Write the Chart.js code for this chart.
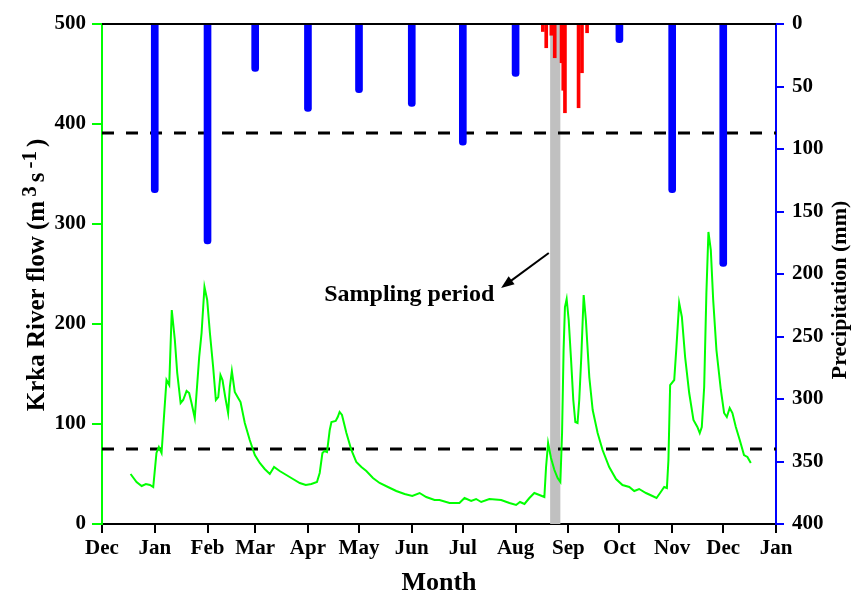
<!DOCTYPE html>
<html>
<head>
<meta charset="utf-8">
<title>Krka River flow and precipitation</title>
<script src="https://cdn.jsdelivr.net/npm/chart.js@4.4.1/dist/chart.umd.min.js"></script>
<style>
  html, body { margin: 0; padding: 0; background: #fff; }
  #flowChart { display: block; background: #fff; }
</style>
</head>
<body>
<canvas id="flowChart" width="860" height="596"></canvas>
<script>
// x axis runs in days counted from 1 December
const monthLabels = ['Dec', 'Jan', 'Feb', 'Mar', 'Apr', 'May', 'Jun', 'Jul', 'Aug', 'Sep', 'Oct', 'Nov', 'Dec', 'Jan'];
const monthStartDays = [0, 31, 62, 90, 121, 151, 182, 212, 243, 274, 304, 335, 365, 396];

// daily river flow, m3/s
const flowDays = [
  16.8, 20.3, 23.3, 25.8, 28.2, 30.1, 32, 33.4, 35, 36.4, 37.9, 39.5, 41, 42.8, 44.2, 46.2, 47.7, 49.7,
  51.2, 52.6, 54.5, 57.1, 58.5, 60.2, 61.8, 63.4, 65.3, 66.9, 68.3, 69.6, 70.8, 72.4, 74.1, 75.1, 76.3,
  78, 80, 81.4, 83.9, 86.8, 89.8, 92.7, 95.6, 98.6, 101.1, 104.4, 108.3, 112.2, 116.2, 119.7, 123,
  126.3, 127.9, 129.5, 130.8, 132.2, 133.8, 134.8, 137.3, 138.5, 139.6, 141, 143.6, 146.5, 149.4,
  152.4, 155.3, 159.2, 163.1, 168, 172.9, 177.8, 182.3, 186.6, 190.5, 195.4, 198.3, 204.2, 210, 213,
  216.9, 219.8, 222.8, 227.6, 234.5, 239.4, 243.3, 245.6, 248.2, 251.1, 254, 257, 259.9, 260.9, 262.1,
  263.8, 265.8, 267.7, 269.3, 270.3, 271.2, 272, 273, 274.2, 275.6, 276.9, 278.1, 279.4, 280.4, 281.6,
  283, 284.3, 286.3, 288.3, 291.2, 294.1, 298, 302, 305.8, 309.8, 312.7, 315.6, 319.6, 323.4, 325.8,
  328.3, 330.3, 331.9, 332.8, 333.8, 336.2, 337.5, 339.1, 340.7, 342.6, 345, 347.5, 349.8, 351.2,
  352.4, 353.8, 355.1, 356.3, 357.7, 359.1, 361, 363.6, 365.5, 367.1, 368.8, 370.4, 372.4, 374.7,
  377.2, 379.2, 381.2
];
const flowValues = [
  50, 42, 38, 40, 39, 37, 71, 77, 71, 107, 144, 139, 214, 184, 151, 121, 124, 133,
  131, 121, 106, 167, 191, 237, 224, 191, 157, 124, 127, 149, 144, 127, 111, 137, 153,
  132, 126, 122, 101, 84, 69, 61, 55, 50, 57, 53, 49, 45, 41, 39, 40,
  42, 51, 71, 73, 72, 94, 102, 103, 107, 112, 109, 91, 74, 62,
  57, 53, 46, 41, 37, 33, 30, 28, 31, 27, 24, 24, 21, 21, 26,
  23, 25, 22, 25, 24, 21, 19, 22, 20, 26, 31, 29, 27, 57, 81,
  66, 54, 46, 42, 91, 174, 217, 225, 204, 164, 124, 102, 101, 124, 167,
  229, 204, 147, 114, 91, 74, 57, 45, 39, 37, 33, 35, 31, 28, 26,
  32, 37, 36, 64, 139, 144, 177, 221, 207, 167, 131, 104, 97, 91,
  97, 137, 231, 292, 274, 224, 174, 134, 111, 107, 116, 111, 97, 84,
  69, 67, 61
];

// monthly precipitation totals, mm
const monthlyRainDays = [31, 62, 90, 121, 151, 182, 212, 243, 304, 335, 365];
const monthlyRain = [135, 176, 38, 70, 55, 66, 97, 42, 15, 135, 194];

// daily precipitation around the sampling campaign, mm
const dailyRainDays = [259, 261, 264, 266, 270, 271, 272, 280, 282, 285];
const dailyRain = [6, 19, 9, 27, 31, 53, 71, 67, 39, 7];

// reference flows, m3/s
const flowThresholds = [391, 75];

const samplingPeriod = [263.3, 269.3];
const samplingNote = { text: 'Sampling period', day: 180.5, flow: 229, from: [262.5, 271], to: [234.5, 236] };

const SERIF = '"Liberation Serif", "Times New Roman", serif';
Chart.defaults.font.family = SERIF;
Chart.defaults.font.weight = 'bold';
Chart.defaults.color = '#000';

const toPoints = (xs, ys) => xs.map((x, i) => ({ x: x, y: ys[i] }));
const firstDay = monthStartDays[0];
const lastDay = monthStartDays[monthStartDays.length - 1];

// grey band behind the data for the sampling days
const samplingBand = {
  id: 'samplingBand',
  beforeDatasetsDraw(chart) {
    const { ctx, chartArea, scales } = chart;
    const x0 = scales.x.getPixelForValue(samplingPeriod[0]);
    const x1 = scales.x.getPixelForValue(samplingPeriod[1]);
    ctx.save();
    ctx.fillStyle = '#c0c0c0';
    ctx.fillRect(x0, chartArea.top, x1 - x0, chartArea.bottom - chartArea.top);
    ctx.restore();
  }
};

// vertical text reading bottom to top, parts may be raised (superscripts)
function drawRotated(ctx, x, y, parts) {
  ctx.save();
  ctx.translate(x, y);
  ctx.rotate(-Math.PI / 2);
  ctx.textBaseline = 'alphabetic';
  ctx.textAlign = 'left';
  ctx.fillStyle = '#000';
  let total = 0;
  parts.forEach(p => {
    ctx.font = 'bold ' + p.size + 'px ' + SERIF;
    p.w = ctx.measureText(p.text).width;
    total += p.w + (p.gap || 0);
  });
  let pos = -total / 2;
  parts.forEach(p => {
    ctx.font = 'bold ' + p.size + 'px ' + SERIF;
    ctx.fillText(p.text, pos + (p.gap || 0) / 2, 8 - (p.rise || 0));
    pos += p.w + (p.gap || 0);
  });
  ctx.restore();
}

// top frame, y axis titles and the sampling note
const extras = {
  id: 'extras',
  afterDraw(chart) {
    const { ctx, chartArea, scales } = chart;
    ctx.save();
    ctx.strokeStyle = '#000';
    ctx.lineWidth = 2;
    ctx.beginPath();
    ctx.moveTo(chartArea.left, chartArea.top);
    ctx.lineTo(chartArea.right, chartArea.top);
    ctx.stroke();

    drawRotated(ctx, 36, 275, [
      { text: 'Krka River flow (m', size: 25 },
      { text: '3', size: 21, rise: 8, gap: 8 },
      { text: 's', size: 25 },
      { text: '-1', size: 21, rise: 8, gap: 8 },
      { text: ')', size: 25 }
    ]);
    drawRotated(ctx, 838, 290, [{ text: 'Precipitation (mm)', size: 22 }]);

    const tx = scales.x.getPixelForValue(samplingNote.day);
    const ty = scales.y.getPixelForValue(samplingNote.flow);
    ctx.font = 'bold 24px ' + SERIF;
    ctx.fillStyle = '#000';
    ctx.textAlign = 'center';
    ctx.textBaseline = 'middle';
    ctx.fillText(samplingNote.text, tx, ty);

    const ax0 = scales.x.getPixelForValue(samplingNote.from[0]);
    const ay0 = scales.y.getPixelForValue(samplingNote.from[1]);
    const ax1 = scales.x.getPixelForValue(samplingNote.to[0]);
    const ay1 = scales.y.getPixelForValue(samplingNote.to[1]);
    const ang = Math.atan2(ay1 - ay0, ax1 - ax0);
    const head = 13;
    ctx.beginPath();
    ctx.moveTo(ax0, ay0);
    ctx.lineTo(ax1 - Math.cos(ang) * head * 0.8, ay1 - Math.sin(ang) * head * 0.8);
    ctx.stroke();
    ctx.beginPath();
    ctx.moveTo(ax1, ay1);
    ctx.lineTo(ax1 - head * Math.cos(ang) + 5 * Math.sin(ang), ay1 - head * Math.sin(ang) - 5 * Math.cos(ang));
    ctx.lineTo(ax1 - head * Math.cos(ang) - 5 * Math.sin(ang), ay1 - head * Math.sin(ang) + 5 * Math.cos(ang));
    ctx.closePath();
    ctx.fill();
    ctx.restore();
  }
};

const thresholdSets = flowThresholds.map(t => ({
  type: 'line',
  data: [{ x: firstDay, y: t }, { x: lastDay, y: t }],
  yAxisID: 'y',
  borderColor: '#000',
  borderWidth: 3,
  borderDash: [12, 12],
  pointRadius: 0,
  order: 3
}));

new Chart(document.getElementById('flowChart'), {
  type: 'bar',
  data: {
    datasets: [
      {
        type: 'line',
        data: toPoints(flowDays, flowValues),
        yAxisID: 'y',
        borderColor: '#00ff00',
        borderWidth: 2,
        pointRadius: 0,
        tension: 0,
        order: 0
      },
      {
        type: 'bar',
        data: toPoints(dailyRainDays, dailyRain),
        yAxisID: 'y1',
        backgroundColor: '#ff0000',
        barThickness: 3,
        grouped: false,
        order: 1
      },
      {
        type: 'bar',
        data: toPoints(monthlyRainDays, monthlyRain),
        yAxisID: 'y1',
        backgroundColor: '#0000ff',
        barThickness: 7,
        borderRadius: 3.5,
        borderSkipped: 'start',
        grouped: false,
        order: 2
      },
      ...thresholdSets
    ]
  },
  options: {
    responsive: false,
    animation: false,
    layout: { padding: { top: 24, left: 0, right: 0, bottom: 0 } },
    plugins: { legend: { display: false }, tooltip: { enabled: false } },
    scales: {
      x: {
        type: 'linear',
        min: firstDay,
        max: lastDay,
        offset: false,
        afterBuildTicks: s => { s.ticks = monthStartDays.map(v => ({ value: v })); },
        afterFit: s => { s.height = 72; },
        ticks: {
          callback: (v, i) => monthLabels[i],
          autoSkip: false,
          maxRotation: 0,
          padding: 3,
          font: { size: 21, weight: 'bold' },
          color: '#000'
        },
        grid: { drawOnChartArea: false, offset: false, color: '#000', lineWidth: 2, tickLength: 9 },
        border: { color: '#000', width: 2 },
        title: { display: true, text: 'Month', color: '#000', padding: 0, font: { size: 26, weight: 'bold', lineHeight: 1 } }
      },
      y: {
        position: 'left',
        min: 0,
        max: 500,
        afterFit: s => { s.width = 102; },
        ticks: { stepSize: 100, padding: 6, font: { size: 21, weight: 'bold' }, color: '#000' },
        grid: { drawOnChartArea: false, color: '#00ff00', lineWidth: 2, tickLength: 10 },
        border: { color: '#00ff00', width: 2 }
      },
      y1: {
        position: 'right',
        reverse: true,
        min: 0,
        max: 400,
        afterFit: s => { s.width = 84; },
        ticks: { stepSize: 50, padding: 8, font: { size: 21, weight: 'bold' }, color: '#000' },
        grid: { drawOnChartArea: false, color: '#0000ff', lineWidth: 2, tickLength: 8 },
        border: { color: '#0000ff', width: 2 }
      }
    }
  },
  plugins: [samplingBand, extras]
});
</script>
</body>
</html>
